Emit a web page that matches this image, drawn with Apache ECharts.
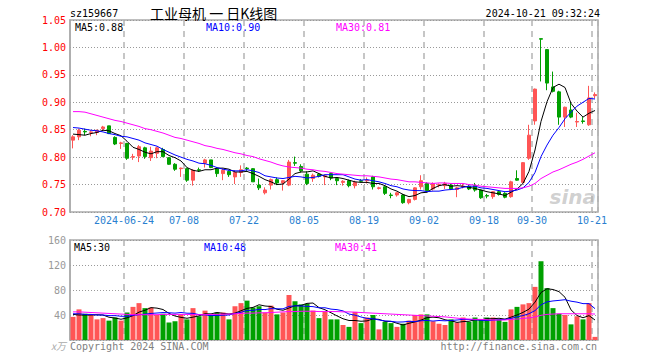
<!DOCTYPE html>
<html>
<head>
<meta charset="utf-8">
<script src="https://cdn.jsdelivr.net/npm/echarts@6/dist/echarts.min.js"></script>
<style>html,body{margin:0;padding:0;background:#fff;}#c{width:660px;height:360px;}</style>
</head>
<body>
<div id="c"></div>
<script>
const dates = [
'2024-06-11','2024-06-12','2024-06-13','2024-06-14','2024-06-17','2024-06-18','2024-06-19','2024-06-20','2024-06-21','2024-06-24',
'2024-06-25','2024-06-26','2024-06-27','2024-06-28','2024-07-01','2024-07-02','2024-07-03','2024-07-04','2024-07-05','2024-07-08',
'2024-07-09','2024-07-10','2024-07-11','2024-07-12','2024-07-15','2024-07-16','2024-07-17','2024-07-18','2024-07-19','2024-07-22',
'2024-07-23','2024-07-24','2024-07-25','2024-07-26','2024-07-29','2024-07-30','2024-07-31','2024-08-01','2024-08-02','2024-08-05',
'2024-08-06','2024-08-07','2024-08-08','2024-08-09','2024-08-12','2024-08-13','2024-08-14','2024-08-15','2024-08-16','2024-08-19',
'2024-08-20','2024-08-21','2024-08-22','2024-08-23','2024-08-26','2024-08-27','2024-08-28','2024-08-29','2024-08-30','2024-09-02',
'2024-09-03','2024-09-04','2024-09-05','2024-09-06','2024-09-09','2024-09-10','2024-09-11','2024-09-12','2024-09-13','2024-09-18',
'2024-09-19','2024-09-20','2024-09-23','2024-09-24','2024-09-25','2024-09-26','2024-09-27','2024-09-30','2024-10-08','2024-10-09',
'2024-10-10','2024-10-11','2024-10-14','2024-10-15','2024-10-16','2024-10-17','2024-10-18','2024-10-21'];

const opens = [
.831,.837,.847,.845,.845,.852,.857,.836,.825,.825,
.800,.802,.817,.799,.807,.814,.799,.787,.779,.779,
.758,.777,.789,.795,.779,.770,.774,.764,.772,.780,
.779,.749,.735,.749,.759,.753,.749,.790,.783,.769,
.761,.769,.764,.770,.761,.754,.757,.748,.757,.757,
.764,.743,.746,.731,.731,.731,.717,.723,.746,.752,
.742,.749,.748,.749,.741,.746,.747,.748,.740,.730,
.728,.737,.734,.728,.761,.754,.798,.866,1.016,.996,
.928,.919,.873,.886,.864,.866,.859,.912];
const closes = [
.837,.849,.846,.846,.849,.855,.843,.824,.826,.798,
.801,.819,.801,.811,.817,.801,.787,.778,.780,.758,
.776,.776,.795,.781,.770,.776,.768,.772,.777,.779,
.755,.744,.740,.759,.753,.757,.791,.789,.775,.752,
.767,.765,.766,.762,.757,.756,.748,.754,.756,.758,
.746,.744,.734,.730,.735,.717,.723,.744,.757,.739,
.752,.750,.752,.742,.744,.747,.742,.740,.726,.729,
.737,.732,.727,.755,.758,.790,.840,.924,1.015,.935,
.920,.873,.891,.873,.865,.865,.908,.914];
const highs = [
.840,.852,.852,.849,.850,.857,.857,.838,.828,.826,
.806,.822,.819,.819,.819,.817,.800,.789,.781,.781,
.778,.781,.797,.795,.781,.779,.776,.776,.785,.782,
.780,.761,.745,.761,.763,.758,.795,.801,.787,.774,
.770,.771,.768,.772,.762,.758,.759,.757,.760,.763,
.766,.746,.747,.735,.736,.733,.724,.745,.767,.754,
.754,.752,.755,.751,.746,.751,.749,.753,.741,.733,
.738,.739,.736,.757,.776,.791,.859,.925,1.016,.997,
.956,.921,.892,.901,.881,.873,.930,.918];
const lows = [
.816,.831,.840,.838,.840,.848,.842,.822,.815,.795,
.795,.791,.797,.793,.798,.800,.786,.775,.764,.755,
.748,.773,.781,.780,.764,.758,.764,.751,.764,.775,
.755,.740,.732,.741,.749,.739,.747,.784,.772,.749,
.755,.763,.749,.758,.749,.748,.745,.743,.754,.752,
.741,.741,.731,.725,.728,.715,.714,.721,.741,.736,
.739,.745,.742,.740,.727,.743,.740,.737,.724,.725,
.724,.730,.725,.726,.757,.752,.795,.859,.938,.922,
.918,.859,.855,.871,.855,.861,.857,.907];

const volumes = [
37,49,42,41,33,35,31,36,31,44,
53,59,51,52,40,42,28,30,41,33,
51,38,47,40,44,44,33,54,59,63,
52,54,44,55,41,44,72,62,57,58,
47,35,45,33,33,24,21,45,27,36,
40,17,29,27,21,26,31,40,41,41,
30,26,24,33,28,36,29,36,33,36,
36,33,29,49,53,57,59,85,126,83,
51,42,40,25,38,33,59,5];

const ma5 = [
.842,.841,.840,.843,.845,.849,.848,.843,.839,.829,
.818,.814,.809,.806,.810,.810,.803,.799,.793,.781,
.776,.774,.777,.777,.780,.780,.778,.773,.773,.774,
.770,.765,.759,.755,.750,.751,.760,.770,.773,.773,
.775,.770,.765,.762,.763,.761,.758,.755,.754,.754,
.752,.752,.748,.742,.738,.732,.728,.730,.735,.736,
.743,.748,.750,.747,.748,.747,.745,.743,.740,.737,
.735,.733,.730,.736,.742,.752,.774,.813,.865,.901,
.927,.933,.927,.898,.884,.873,.880,.885];
const ma10 = [
.854,.853,.851,.849,.848,.846,.843,.841,.838,.837,
.834,.831,.826,.823,.820,.814,.809,.804,.800,.796,
.793,.789,.788,.785,.781,.778,.776,.775,.775,.777,
.775,.772,.766,.764,.762,.761,.763,.765,.764,.762,
.763,.765,.768,.768,.768,.768,.764,.760,.758,.759,
.757,.755,.752,.748,.746,.742,.740,.739,.739,.737,
.738,.738,.740,.741,.742,.745,.747,.747,.744,.743,
.741,.739,.737,.738,.740,.744,.754,.772,.801,.822,
.840,.854,.870,.882,.893,.900,.907,.906];
const ma30 = [
.883,.883,.882,.879,.876,.873,.870,.867,.865,.862,
.859,.856,.852,.850,.847,.844,.840,.836,.834,.831,
.828,.825,.821,.819,.816,.814,.811,.808,.806,.803,
.801,.797,.794,.791,.787,.784,.782,.781,.780,.778,
.777,.775,.774,.772,.770,.769,.768,.767,.766,.766,
.765,.764,.762,.760,.759,.757,.755,.755,.754,.753,
.752,.753,.753,.752,.752,.752,.750,.749,.747,.746,
.745,.744,.743,.743,.743,.744,.747,.752,.761,.767,
.773,.777,.782,.787,.791,.796,.802,.808];

const volMa5 = [
41,40,40,40,40.4,40,36.4,35.2,33.2,35.4,
39,44.6,47.6,51.8,51,48.8,42.6,38.4,36.2,34.8,
36.6,38.6,42,41.8,44,42.6,41.6,43,46.8,50.6,
52.2,56.4,54.4,53.6,49.2,47.6,51.2,54.8,55.2,58.6,
59.2,51.8,48.4,43.6,38.6,34,31.2,31.2,30,30.6,
33.8,33,29.8,29.8,26.8,24,26.8,29,31.8,35.8,
36.6,35.6,32.4,30.8,28.2,29.4,30,32.4,32.4,34,
34,34.8,33.4,36.6,40,44.2,49.4,60.6,76,82,
80.8,77.4,68.4,48.2,39.2,35.6,39,32];
const volMa10 = [
42,42,41,41,40,40,39,39,38,37.9,
39.5,40.5,41.4,42.5,43.2,43.9,43.6,43,44,42.9,
42.7,40.6,40.2,39,39.4,39.6,40.1,42.5,44.3,47.3,
47.4,49,48.7,50.2,49.9,49.9,53.8,54.6,54.4,53.9,
53.4,51.5,51.6,49.4,48.6,46.6,41.5,39.8,36.8,34.6,
33.9,32.1,30.5,29.9,28.7,28.9,29.9,29.4,30.8,31.3,
30.3,31.2,30.7,31.3,32,33,32.8,32.4,31.6,31.1,
31.7,32.4,32.9,34.5,37,39.1,42.1,47,56.3,61,
62.5,63.4,64.5,62.1,60.6,58.2,58.2,50.2];
const volMa30 = [
45,45,44.5,44,43.5,43,42.5,42,41.5,41,
40.5,40.5,40.5,40.5,40.5,41,41,41,41,41,
40.5,40.5,40.5,41,41,41.5,41.5,42,42.5,43,
43,43.5,43.5,44,44.5,45,45.5,45.5,46,46,
46,45.5,45.5,45.5,45.5,45,45,44.5,44,43.5,
43,42.5,42,41.5,41,40.5,40,39.5,39,38.5,
38,37.5,37,36,35,34,33.5,33,33,32.5,
32,32,32,33,33.5,34.5,35.5,37,39.5,41,
41.5,42,42,42,42,42,42,41.5];

const tickDates = ['2024-06-24','2024-07-08','2024-07-22','2024-08-05','2024-08-19','2024-09-02','2024-09-18','2024-09-30','2024-10-21'];
const tickLabels = ['2024-06-24','07-08','07-22','08-05','08-19','09-02','09-18','09-30','10-21'];
const priceLegend = ['MA5:0.88','MA10:0.90','MA30:0.81'];
const volLegend = ['MA5:30','MA10:48','MA30:41'];

const UP = '#ff5555', DOWN = '#00a000';
const MONO = '"DejaVu Sans Mono", "Liberation Mono", monospace';
const tickSet = new Set(tickDates);
const isTick = (i, v) => tickSet.has(v !== undefined ? v : dates[i]);

const chart = echarts.init(document.getElementById('c'), null, {renderer: 'svg'});

const vSplit = {show: true, interval: (i, v) => isTick(i, v), lineStyle: {type: [6, 5], color: '#b4b4b4', width: 1.5}};

function txt(x, y, text, fill, font, align) {
  return {type: 'text', x: x, y: y, silent: true,
    style: {text: text, fill: fill, font: font, textAlign: align || 'left', align: align || 'left',
            textVerticalAlign: 'middle', verticalAlign: 'middle'}};
}

const option = {
  animation: false,
  backgroundColor: '#fff',
  grid: [
    {left: 70, right: 62, top: 20, height: 192, show: true, borderColor: '#aaa', borderWidth: 1.5},
    {left: 70, right: 62, top: 240, height: 100, show: true, borderColor: '#aaa', borderWidth: 1.5}
  ],
  xAxis: [
    {type: 'category', gridIndex: 0, data: dates, boundaryGap: true,
     axisLine: {show: false}, axisTick: {show: false},
     axisLabel: {interval: (i, v) => isTick(i, v), color: '#2a7fd0', fontFamily: MONO, fontSize: 10, margin: 3,
                 padding: [0, 6, 0, 0],
                 formatter: (v) => tickLabels[tickDates.indexOf(v)] || ''},
     splitLine: vSplit},
    {type: 'category', gridIndex: 1, data: dates, boundaryGap: true,
     axisLine: {show: false}, axisTick: {show: false}, axisLabel: {show: false},
     splitLine: vSplit}
  ],
  yAxis: [
    {type: 'value', gridIndex: 0, min: 0.70, max: 1.05, interval: 0.05, scale: true,
     axisLine: {show: true, lineStyle: {color: '#aaa', width: 1.5}}, axisTick: {show: false},
     axisLabel: {color: '#ff0000', fontFamily: MONO, fontSize: 10, margin: 4, formatter: v => v.toFixed(2)},
     splitLine: {show: true, lineStyle: {type: [1, 2], color: '#999', width: 1}}},
    {type: 'value', gridIndex: 1, min: 0, max: 160, interval: 40,
     axisLine: {show: true, lineStyle: {color: '#aaa', width: 1.5}}, axisTick: {show: false},
     axisLabel: {color: '#999', fontFamily: MONO, fontSize: 10, margin: 4, formatter: v => v === 0 ? '' : String(v)},
     splitLine: {show: true, lineStyle: {type: [1, 2], color: '#999', width: 1}}}
  ],
  series: [
    {type: 'candlestick', xAxisIndex: 0, yAxisIndex: 0, barWidth: 4,
     data: dates.map((d, i) => [opens[i], closes[i], lows[i], highs[i]]),
     itemStyle: {color: UP, color0: DOWN, borderColor: UP, borderColor0: DOWN, borderWidth: 1}},
    {type: 'line', xAxisIndex: 0, yAxisIndex: 0, data: ma5, symbol: 'none', lineStyle: {color: '#000', width: 1}},
    {type: 'line', xAxisIndex: 0, yAxisIndex: 0, data: ma10, symbol: 'none', lineStyle: {color: '#0000ff', width: 1}},
    {type: 'line', xAxisIndex: 0, yAxisIndex: 0, data: ma30, symbol: 'none', lineStyle: {color: '#ff00ff', width: 1}},
    {type: 'bar', xAxisIndex: 1, yAxisIndex: 1, barWidth: 5,
     data: volumes.map((v, i) => ({value: v, itemStyle: {color: closes[i] >= opens[i] ? UP : DOWN}}))},
    {type: 'line', xAxisIndex: 1, yAxisIndex: 1, data: volMa5, symbol: 'none', lineStyle: {color: '#000', width: 1}},
    {type: 'line', xAxisIndex: 1, yAxisIndex: 1, data: volMa10, symbol: 'none', lineStyle: {color: '#0000ff', width: 1}},
    {type: 'line', xAxisIndex: 1, yAxisIndex: 1, data: volMa30, symbol: 'none', lineStyle: {color: '#ff00ff', width: 1}}
  ],
  graphic: [
    txt(70, 13, 'sz159667', '#000', '10px ' + MONO),
    txt(150, 13, '工业母机 一 日K线图', '#000', '14px "Noto Sans CJK SC", sans-serif'),
    txt(600, 13, '2024-10-21 09:32:24', '#000', '10px ' + MONO, 'right'),
    txt(75, 27, priceLegend[0], '#000', '10px ' + MONO),
    txt(206, 27, priceLegend[1], '#0000ff', '10px ' + MONO),
    txt(336, 27, priceLegend[2], '#ff00ff', '10px ' + MONO),
    txt(74, 247, volLegend[0], '#000', '10px ' + MONO),
    txt(204, 247, volLegend[1], '#0000ff', '10px ' + MONO),
    txt(335, 247, volLegend[2], '#ff00ff', '10px ' + MONO),
    txt(66, 345, 'x万', '#aaa', 'italic 10px "Noto Sans CJK SC", sans-serif', 'right'),
    txt(70, 346, 'Copyright 2024 SINA.COM', '#808080', '10px ' + MONO),
    txt(597, 346, 'http://finance.sina.com.cn', '#808080', '10px ' + MONO, 'right'),
    {type: 'text', x: 596, y: 197, silent: true, style: {text: 'sina', fill: 'rgba(150,150,150,0.45)',
      font: 'italic bold 20px "DejaVu Sans", sans-serif', textAlign: 'right', align: 'right', textVerticalAlign: 'middle', verticalAlign: 'middle'}}
  ]
};
chart.setOption(option);
</script>
</body>
</html>
